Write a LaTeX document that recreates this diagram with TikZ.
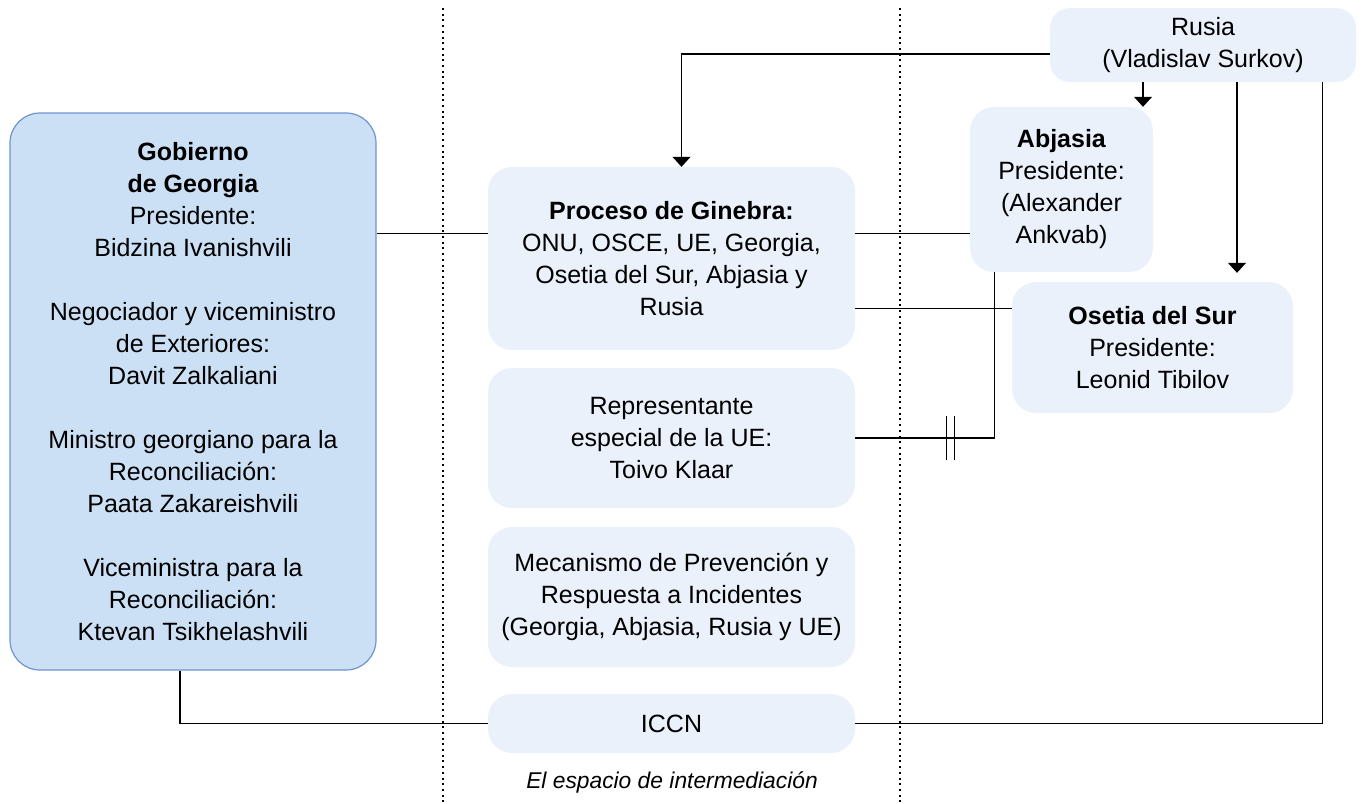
\documentclass[tikz,border=0pt]{standalone}
\usepackage{fontspec}
\setmainfont{Liberation Sans}
\usetikzlibrary{positioning,calc,arrows.meta,decorations.markings}
\definecolor{govfill}{HTML}{CCE0F5}
\definecolor{govline}{HTML}{6F93CC}
\definecolor{boxfill}{HTML}{EAF1FA}

\begin{document}
\begin{tikzpicture}[x=1pt,y=-1pt,
            txt/.style={align=center, font=\fontsize{25}{32}\selectfont, inner sep=0pt},
            gov/.style={txt, rectangle, rounded corners=30pt, fill=govfill, draw=govline, line width=1.2pt},
            actor/.style={txt, rectangle, rounded corners=24pt, fill=boxfill},
            link/.style={line width=1.2pt},
            arr/.style={link, -{Triangle[width=18pt,length=10pt]}},
            divider/.style={line width=2pt, dash pattern=on 2pt off 3.7pt}
        ]
            \useasboundingbox (0,0) rectangle (1367,803);

            % Dividers
            \draw[divider] (443,8) -- (443,803);
            \draw[divider] (900,8) -- (900,803);

            % Georgia
            \node[gov, minimum width=366pt, minimum height=557pt] (gob) at (193,391.5)
                {\textbf{Gobierno}\\ \textbf{de Georgia}\\ Presidente:\\ Bidzina Ivanishvili\\[32pt]
                 Negociador y viceministro\\ de Exteriores:\\ Davit Zalkaliani\\[32pt]
                 Ministro georgiano para la\\ Reconciliación:\\ Paata Zakareishvili\\[32pt]
                 Viceministra para la\\ Reconciliación:\\ Ktevan Tsikhelashvili};

            % Intermediation space
            \node[actor, minimum width=367pt, minimum height=183pt] (gin) at (671.5,258.5)
                {\textbf{Proceso de Ginebra:}\\ ONU, OSCE, UE, Georgia,\\ Osetia del Sur, Abjasia y\\ Rusia};
            \node[actor, minimum width=367pt, minimum height=140pt] (rep) at (671.5,438)
                {Representante\\ especial de la UE:\\ Toivo Klaar};
            \node[actor, minimum width=367pt, minimum height=140pt] (mec) at (671.5,597)
                {Mecanismo de Prevención y\\ Respuesta a Incidentes\\ (Georgia, Abjasia, Rusia y UE)};
            \node[actor, minimum width=367pt, minimum height=59pt] (iccn) at (671.5,723.5) {ICCN};
            \node[font=\fontsize{22.8}{28}\selectfont\itshape, inner sep=0pt] (space) at (672,782)
                {El espacio de intermediación};

            % Russia and the regions
            \node[actor, rounded corners=20pt, minimum width=306pt, minimum height=74pt] (rus) at (1203,45)
                {Rusia\\ (Vladislav Surkov)};
            \node[actor, minimum width=183pt, minimum height=165pt] (abj) at (1061.5,189.5)
                {\textbf{Abjasia}\\ Presidente:\\ (Alexander\\ Ankvab)};
            \node[actor, minimum width=281pt, minimum height=131pt] (ose) at (1152.5,347.5)
                {\textbf{Osetia del Sur}\\ Presidente:\\ Leonid Tibilov};

            % Connections
            \draw[link] ([yshift=25pt]gin.west) -- ([yshift=25pt]gin.west -| gob.east);
            \draw[link] ([yshift=25pt]gin.east) -- ([yshift=25pt]gin.east -| abj.west);
            \draw[link] ([yshift=-50pt]gin.east) -- ([yshift=-50pt]gin.east -| ose.west);
            \draw[link, postaction={decorate}, decoration={markings,
                    mark=at position 91pt with {\draw[link] (0,-22pt) -- (0,22pt);
                                                \draw[link] (8pt,-22pt) -- (8pt,22pt);}}]
                (rep.east) -| ([xshift=25pt]abj.south west);
            \draw[link] ([xshift=-13pt]gob.south) |- (iccn.west);
            \draw[link] ([xshift=-34pt]rus.south east) |- (iccn.east);

            % Arrows from Rusia
            \draw[arr] ([yshift=-9pt]rus.west) -| ([xshift=10pt]gin.north);
            \draw[arr] ([xshift=-60pt]rus.south) -- ([xshift=-60pt]rus.south |- abj.north);
            \draw[arr, shorten >=9pt] ([xshift=34pt]rus.south) -- ([xshift=34pt]rus.south |- ose.north);
        \end{tikzpicture}
\end{document}
